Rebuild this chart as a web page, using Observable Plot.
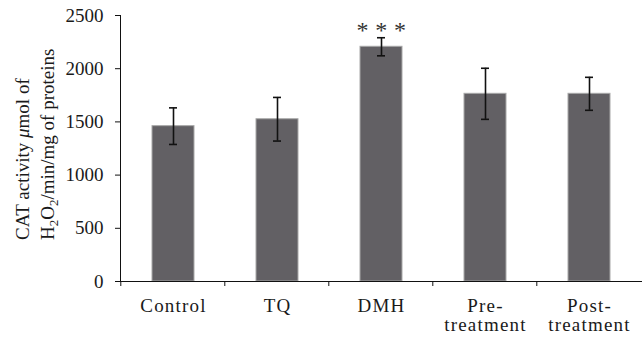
<!DOCTYPE html>
<html>
<head>
<meta charset="utf-8">
<script src="https://cdn.jsdelivr.net/npm/d3@7"></script>
<script src="https://cdn.jsdelivr.net/npm/@observablehq/plot@0.6"></script>
<style>
  html, body { margin: 0; padding: 0; background: #fff; }
  svg { display: block; }
</style>
</head>
<body>
<div id="chart"></div>
<script>
const categories = ["Control", "TQ", "DMH", "Pre-\ntreatment", "Post-\ntreatment"];
const means = [1460, 1525, 2206, 1764, 1764];
const errors = [172, 205, 85, 240, 155];
const significance = ["", "", "* * *", "", ""];
const yTicks = [0, 500, 1000, 1500, 2000, 2500];

const data = categories.map((c, i) => ({
  cat: c, mean: means[i], lo: means[i] - errors[i], hi: means[i] + errors[i], sig: significance[i]
}));

const FONT = "Liberation Serif, Times New Roman, serif";

const plot = Plot.plot({
  width: 642,
  height: 339,
  marginLeft: 120,
  marginRight: 0,
  marginTop: 15,
  marginBottom: 58,
  style: { fontFamily: FONT, color: "#1a1a1a", background: "#fff", overflow: "visible" },
  x: { domain: categories, paddingInner: 0.6, paddingOuter: 0.3, label: null },
  y: { domain: [0, 2500], label: null },
  marks: [
    Plot.barY(data, { x: "cat", y: "mean", fill: "#626064", stroke: "#a8a8a8", strokeWidth: 1 }),
    Plot.ruleX(data, { x: "cat", y1: "lo", y2: "hi", stroke: "#111", strokeWidth: 1.6 }),
    Plot.tickY(data, { x: "cat", y: "lo", stroke: "#111", strokeWidth: 1.6, insetLeft: 17, insetRight: 17 }),
    Plot.tickY(data, { x: "cat", y: "hi", stroke: "#111", strokeWidth: 1.6, insetLeft: 17, insetRight: 17 }),
    Plot.text(data.filter(d => d.sig), { x: "cat", y: "hi", text: "sig", dy: 0, lineAnchor: "bottom", fontSize: 24, fill: "#333" }),
    Plot.axisY({ ticks: yTicks, tickFormat: d => String(d), tickSize: 5, tickPadding: 12, fontSize: 19, stroke: "#111" }),
    Plot.axisX({ tickSize: 0, tickPadding: 17, fontSize: 19, lineHeight: 1 }),
    Plot.frame({ anchor: "left", stroke: "#111" }),
    Plot.frame({ anchor: "bottom", stroke: "#111" })
  ]
});

const svg = d3.select(plot);
// wider letter spacing for the category labels and asterisks
svg.selectAll("g[aria-label='x-axis tick label'] text").style("letter-spacing", "1.2px");
svg.selectAll("g[aria-label='text'] text").style("letter-spacing", "0.4px");

// x-axis ticks at the category boundaries
const xs = plot.scale("x");
const ys = plot.scale("y");
const y0 = ys.apply(0);
const boundaryGroup = svg.append("g").attr("stroke", "#111");
categories.forEach(c => {
  const bx = xs.apply(c) - xs.step * xs.paddingInner / 2;
  boundaryGroup.append("line")
    .attr("x1", bx).attr("x2", bx)
    .attr("y1", y0).attr("y2", y0 + 5);
});

// y-axis title with subscripts
const title = svg.append("g")
  .attr("font-family", FONT)
  .attr("font-size", 19)
  .attr("fill", "#1a1a1a");
const t1 = title.append("text")
  .attr("transform", "translate(29,240) rotate(-90)")
  .attr("text-anchor", "start");
t1.append("tspan").text("CAT activity ");
t1.append("tspan").attr("font-style", "italic").text("μ");
t1.append("tspan").text("mol of");
const t2 = title.append("text")
  .attr("transform", "translate(54,240) rotate(-90)")
  .attr("text-anchor", "start");
t2.append("tspan").text("H");
t2.append("tspan").attr("font-size", 13).attr("dy", 4).text("2");
t2.append("tspan").attr("dy", -4).text("O");
t2.append("tspan").attr("font-size", 13).attr("dy", 4).text("2");
t2.append("tspan").attr("dy", -4).text("/min/mg of proteins");

document.getElementById("chart").appendChild(plot);
</script>
</body>
</html>
